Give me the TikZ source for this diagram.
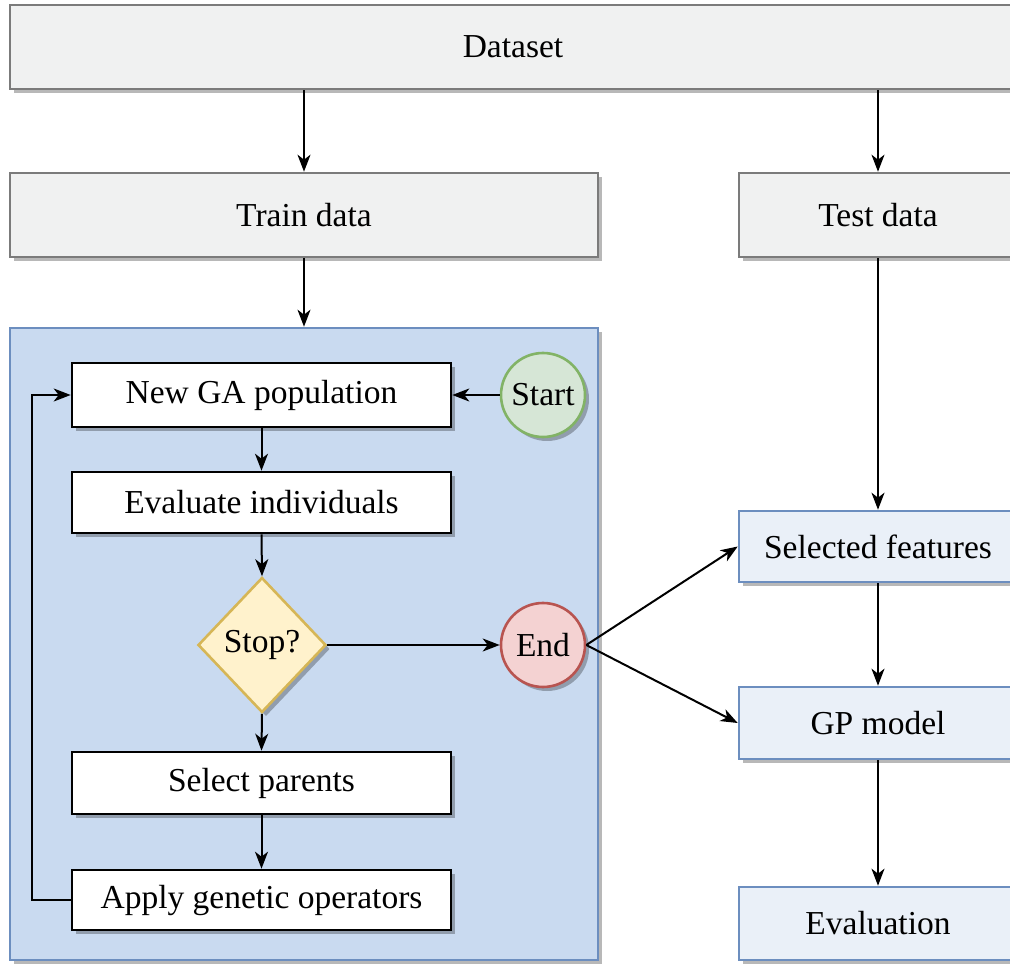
\documentclass[tikz,border=0pt]{standalone}
\usepackage{fontspec}
\setmainfont{Liberation Serif}
\usetikzlibrary{shapes.geometric,shadows,arrows.meta}
\definecolor{gfill}{HTML}{F0F1F1}
\definecolor{gdraw}{HTML}{7B7B7B}
\definecolor{cfill}{HTML}{C9DAF0}
\definecolor{bdraw}{HTML}{6C8EBF}
\definecolor{bfill}{HTML}{EAF0F8}
\definecolor{sfill}{HTML}{D6E6D6}
\definecolor{sdraw}{HTML}{82B366}
\definecolor{efill}{HTML}{F4D2D2}
\definecolor{edraw}{HTML}{B85450}
\definecolor{dfill}{HTML}{FFF2CC}
\definecolor{ddraw}{HTML}{D6B656}
\tikzset{
  base/.style={line width=2.6pt, inner sep=0pt, font=\fontsize{33.5}{40}\selectfont,
    drop shadow={shadow xshift=4pt, shadow yshift=-4pt, opacity=0.28, fill=black}},
  greybox/.style={base, rectangle, draw=gdraw, fill=gfill},
  bluebox/.style={base, rectangle, draw=bdraw, fill=bfill},
  whitebox/.style={base, rectangle, draw=black, fill=white, minimum width=379pt},
  container/.style={base, rectangle, draw=bdraw, fill=cfill},
  arr/.style={line width=2pt, -{Stealth[length=17pt,width=13pt,inset=5pt]}}
}
\begin{document}
\begin{tikzpicture}[x=1pt,y=-1pt]
\useasboundingbox (0,0) rectangle (1010,965);
\clip (0,0) rectangle (1010,965);
\fill[white] (0,0) rectangle (1010,965);
\node[greybox, minimum width=1006pt, minimum height=84pt] (dataset) at (513,47) {\raisebox{-2pt}{Dataset}};
\node[greybox, minimum width=588pt, minimum height=84pt] (train) at (304,215) {\raisebox{-2pt}{Train data}};
\node[greybox, minimum width=278pt, minimum height=84pt] (test) at (878,215) {\raisebox{-2pt}{Test data}};
\node[container, minimum width=588pt, minimum height=632pt] (cont) at (304,644) {};
\node[whitebox, minimum height=64pt] (newga) at (261.5,395) {\raisebox{-2pt}{New GA population}};
\node[base, circle, draw=sdraw, fill=sfill, minimum size=84pt] (start) at (543,395) {Start};
\node[whitebox, minimum height=61pt] (eval) at (261.5,502.5) {Evaluate individuals};
\node[base, diamond, draw=ddraw, fill=dfill, minimum width=128pt, minimum height=135pt] (stop) at (262,645) {\raisebox{-2pt}{Stop?}};
\node[base, circle, draw=edraw, fill=efill, minimum size=84pt] (end) at (543,645) {End};
\node[whitebox, minimum height=62pt] (select) at (261.5,783) {\raisebox{-2pt}{Select parents}};
\node[whitebox, minimum height=60pt] (apply) at (261.5,900) {\raisebox{-2pt}{Apply genetic operators}};
\node[bluebox, minimum width=278pt, minimum height=71pt] (sel) at (878,546.5) {Selected features};
\node[bluebox, minimum width=278pt, minimum height=72pt] (gp) at (878,723) {GP model};
\node[bluebox, minimum width=278pt, minimum height=73pt] (evaln) at (878,923.5) {Evaluation};
\draw[arr] (dataset.south -| train) -- (train.north);
\draw[arr] (dataset.south -| test) -- (test.north);
\draw[arr] (train.south) -- (cont.north);
\draw[arr] (start.west) -- (newga.east);
\draw[arr] (newga.south) -- (eval.north);
\draw[arr] (eval.south) -- (stop.north);
\draw[arr] (stop.east) -- (end.west);
\draw[arr] (stop.south) -- (select.north);
\draw[arr] (select.south) -- (apply.north);
\draw[arr] (apply.west) -- ++(-39,0) |- (newga.west);
\draw[arr] (test.south) -- (sel.north);
\draw[arr] (end.east) -- (sel.west);
\draw[arr] (end.east) -- (gp.west);
\draw[arr] (sel.south) -- (gp.north);
\draw[arr] (gp.south) -- (evaln.north);
\end{tikzpicture}
\end{document}
